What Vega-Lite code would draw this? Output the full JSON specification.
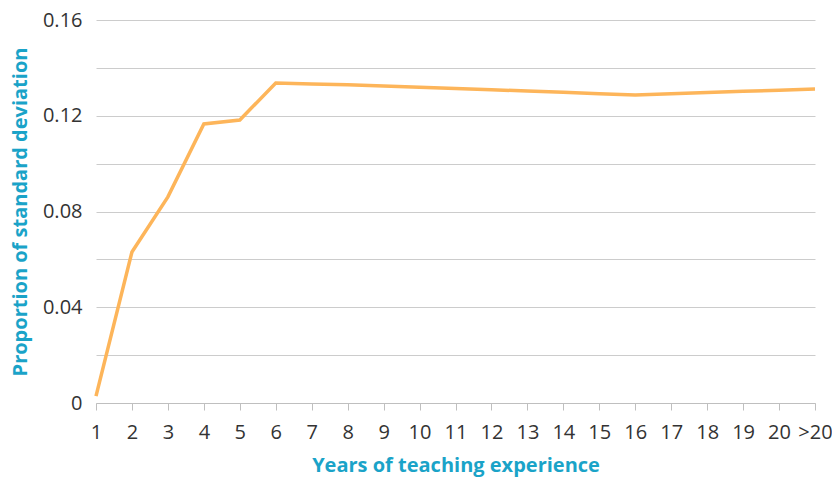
{
  "$schema": "https://vega.github.io/schema/vega-lite/v6.json",
  "width": 719,
  "height": 383,
  "autosize": {"type": "none"},
  "padding": {"left": 96, "top": 20, "right": 17, "bottom": 80},
  "background": "white",
  "config": {
    "view": {"stroke": null},
    "font": "Open Sans"
  },
  "data": {
    "values": [
      {"years": "1", "value": 0.0029},
      {"years": "2", "value": 0.0631},
      {"years": "3", "value": 0.0861},
      {"years": "4", "value": 0.1166},
      {"years": "5", "value": 0.1182},
      {"years": "6", "value": 0.1337},
      {"years": "7", "value": 0.1333},
      {"years": "8", "value": 0.1329},
      {"years": "9", "value": 0.1324},
      {"years": "10", "value": 0.1319},
      {"years": "11", "value": 0.1314},
      {"years": "12", "value": 0.1309},
      {"years": "13", "value": 0.1303},
      {"years": "14", "value": 0.1298},
      {"years": "15", "value": 0.1292},
      {"years": "16", "value": 0.1287},
      {"years": "17", "value": 0.1292},
      {"years": "18", "value": 0.1297},
      {"years": "19", "value": 0.1302},
      {"years": "20", "value": 0.1307},
      {"years": ">20", "value": 0.1312}
    ]
  },
  "mark": {"type": "line", "color": "#FDB55A", "strokeWidth": 3.5, "strokeJoin": "miter"},
  "encoding": {
    "x": {
      "field": "years",
      "type": "ordinal",
      "sort": null,
      "scale": {"type": "point", "padding": 0},
      "axis": {
        "title": "Years of teaching experience",
        "titleFont": "Open Sans",
        "titleFontSize": 20,
        "titleFontWeight": "bold",
        "titleColor": "#1AA3C8",
        "titlePadding": 13,
        "labelAngle": 0,
        "labelFont": "Open Sans",
        "labelFontSize": 20,
        "labelColor": "#333333",
        "labelPadding": 12,
        "domainColor": "#bfbfbf",
        "tickColor": "#bfbfbf",
        "tickSize": 7,
        "grid": false
      }
    },
    "y": {
      "field": "value",
      "type": "quantitative",
      "scale": {"domain": [0, 0.16], "nice": false},
      "axis": {
        "title": "Proportion of standard deviation",
        "titleFont": "Open Sans",
        "titleFontSize": 20,
        "titleFontWeight": "bold",
        "titleColor": "#1AA3C8",
        "titlePadding": 12,
        "values": [0, 0.02, 0.04, 0.06, 0.08, 0.1, 0.12, 0.14, 0.16],
        "labelExpr": "(round(datum.value*100) % 4 == 0) ? (datum.value == 0 ? '0' : format(datum.value, '.2f')) : ''",
        "labelFont": "Open Sans",
        "labelFontSize": 20,
        "labelColor": "#333333",
        "labelPadding": 14,
        "ticks": false,
        "domain": false,
        "gridColor": "#cccccc",
        "gridWidth": 1
      }
    }
  }
}
